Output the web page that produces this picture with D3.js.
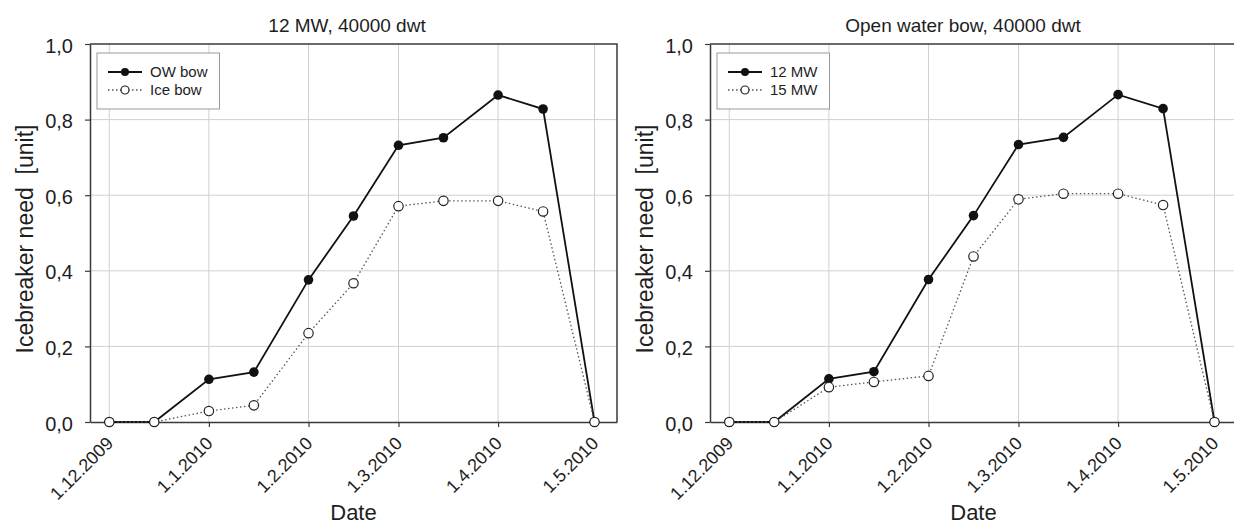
<!DOCTYPE html>
<html>
<head>
<meta charset="utf-8">
<script src="https://cdn.jsdelivr.net/npm/d3@7"></script>
<style>
  html, body { margin: 0; padding: 0; background: #fff; }
  svg { display: block; font-family: Arial, "Liberation Sans", sans-serif; }
  .ylab { white-space: pre; }
</style>
</head>
<body>
<div id="chart"></div>
<script>
// sample dates (1st and 15th of each month)
const dates = ["2009-12-01", "2009-12-15", "2010-01-01", "2010-01-15", "2010-02-01", "2010-02-15",
  "2010-03-01", "2010-03-15", "2010-04-01", "2010-04-15", "2010-05-01"];

// left panel: 12 MW, 40000 dwt
const owBow = [0, 0, 0.113, 0.132, 0.376, 0.545, 0.732, 0.752, 0.865, 0.828, 0];
const iceBow = [0, 0, 0.029, 0.044, 0.235, 0.367, 0.571, 0.585, 0.585, 0.557, 0];

// right panel: open water bow, 40000 dwt
const mw12 = [0, 0, 0.114, 0.133, 0.377, 0.546, 0.734, 0.753, 0.866, 0.829, 0];
const mw15 = [0, 0, 0.092, 0.106, 0.122, 0.438, 0.589, 0.604, 0.604, 0.574, 0];

const monthTicks = ["2009-12-01", "2010-01-01", "2010-02-01", "2010-03-01", "2010-04-01", "2010-05-01"];
const monthLabels = ["1.12.2009", "1.1.2010", "1.2.2010", "1.3.2010", "1.4.2010", "1.5.2010"];
const yTicks = [0, 0.2, 0.4, 0.6, 0.8, 1.0];
const yLabels = ["0,0", "0,2", "0,4", "0,6", "0,8", "1,0"];
const xDomain = ["2009-11-25", "2010-05-08"];

const parse = d3.utcParse("%Y-%m-%d");

const width = 1234, height = 524;
const svg = d3.select("#chart").append("svg")
  .attr("width", width)
  .attr("height", height);

const axisColor = "#3a3a3a";
const gridColor = "#d0d0d0";
const textColor = "#1e1e1e";

function drawPanel(opt) {
  const x = d3.scaleUtc().domain(xDomain.map(parse)).range([opt.left, opt.left + 527]);
  const y = d3.scaleLinear().domain([0, 1]).range([422, 44]);
  const g = svg.append("g");

  // grid
  g.append("g").selectAll("line").data(monthTicks.map(parse)).join("line")
    .attr("x1", d => x(d)).attr("x2", d => x(d))
    .attr("y1", y(0)).attr("y2", y(1))
    .attr("stroke", gridColor).attr("stroke-width", 1);
  g.append("g").selectAll("line").data(yTicks.slice(1, -1)).join("line")
    .attr("x1", x.range()[0]).attr("x2", x.range()[1])
    .attr("y1", d => y(d)).attr("y2", d => y(d))
    .attr("stroke", gridColor).attr("stroke-width", 1);

  // frame top / right
  g.append("path")
    .attr("d", `M${x.range()[0]},${y(1)}H${x.range()[1]}V${y(0)}`)
    .attr("fill", "none").attr("stroke", axisColor).attr("stroke-width", 1.5);

  // x axis
  const xAxis = d3.axisBottom(x).tickValues(monthTicks.map(parse))
    .tickSize(5).tickSizeOuter(0).tickFormat((d, i) => monthLabels[i]);
  const gx = g.append("g").attr("transform", `translate(0,${y(0)})`).call(xAxis);
  gx.select(".domain").attr("stroke", axisColor).attr("stroke-width", 1.5);
  gx.selectAll(".tick line").attr("stroke", axisColor).attr("stroke-width", 1.2);
  gx.selectAll(".tick text")
    .attr("font-size", 18).attr("fill", textColor)
    .attr("text-anchor", "end")
    .attr("transform", "translate(0,18) rotate(-45)")
    .attr("x", 0).attr("y", 0).attr("dy", "0.35em");

  // y axis
  const yAxis = d3.axisLeft(y).tickValues(yTicks).tickSize(5).tickSizeOuter(0)
    .tickFormat((d, i) => yLabels[i]);
  const gy = g.append("g").attr("transform", `translate(${x.range()[0]},0)`).call(yAxis);
  gy.select(".domain").attr("stroke", axisColor).attr("stroke-width", 1.5);
  gy.selectAll(".tick line").attr("stroke", axisColor).attr("stroke-width", 1.2);
  gy.selectAll(".tick text").attr("font-size", 20).attr("fill", textColor)
    .attr("x", -17).attr("dy", "0.4em");

  // titles
  g.append("text").attr("x", opt.titleX).attr("y", 32)
    .attr("text-anchor", "middle").attr("font-size", 19).attr("fill", textColor)
    .text(opt.title);
  g.append("text").attr("class", "ylab").attr("text-anchor", "middle")
    .attr("transform", `translate(${opt.left - 57},239) rotate(-90)`)
    .attr("font-size", 23).attr("fill", textColor)
    .text("Icebreaker need  [unit]");
  g.append("text").attr("x", (x.range()[0] + x.range()[1]) / 2).attr("y", 520)
    .attr("text-anchor", "middle").attr("font-size", 22).attr("fill", textColor)
    .text("Date");

  const pts = (vals) => vals.map((v, i) => ({ date: parse(dates[i]), v }));
  const line = d3.line().x(d => x(d.date)).y(d => y(d.v));

  // filled series
  const s1 = pts(opt.series1);
  g.append("path").datum(s1).attr("d", line)
    .attr("fill", "none").attr("stroke", "#111").attr("stroke-width", 1.8);
  g.append("g").selectAll("circle").data(s1).join("circle")
    .attr("cx", d => x(d.date)).attr("cy", d => y(d.v)).attr("r", 4.8)
    .attr("fill", "#111");

  // open series (on top)
  const s2 = pts(opt.series2);
  g.append("path").datum(s2).attr("d", line)
    .attr("fill", "none").attr("stroke", "#555").attr("stroke-width", 1.3)
    .attr("stroke-dasharray", "1.5,2.5");
  g.append("g").selectAll("circle").data(s2).join("circle")
    .attr("cx", d => x(d.date)).attr("cy", d => y(d.v)).attr("r", 4.7)
    .attr("fill", "#fff").attr("stroke", "#222").attr("stroke-width", 1.2);

  // legend
  const lx = x.range()[0] + 7, ly = 53;
  const leg = g.append("g");
  const box = leg.append("rect").attr("x", lx).attr("y", ly).attr("height", 56)
    .attr("fill", "#fff").attr("stroke", "#999").attr("stroke-width", 1);
  const rows = [
    { name: opt.names[0], y: 72, filled: true },
    { name: opt.names[1], y: 90, filled: false }
  ];
  let maxW = 0;
  rows.forEach(r => {
    leg.append("line").attr("x1", lx + 11).attr("x2", lx + 45).attr("y1", r.y).attr("y2", r.y)
      .attr("stroke", r.filled ? "#111" : "#555")
      .attr("stroke-width", r.filled ? 1.8 : 1.3)
      .attr("stroke-dasharray", r.filled ? null : "1.5,2.5");
    leg.append("circle").attr("cx", lx + 28).attr("cy", r.y).attr("r", 4)
      .attr("fill", r.filled ? "#111" : "#fff")
      .attr("stroke", r.filled ? "none" : "#222").attr("stroke-width", 1.2);
    const t = leg.append("text").attr("x", lx + 53).attr("y", r.y).attr("dy", "0.36em")
      .attr("font-size", 15).attr("fill", textColor).text(r.name);
    maxW = Math.max(maxW, t.node().getComputedTextLength());
  });
  box.attr("width", 53 + maxW + 12);
}

drawPanel({ left: 90, title: "12 MW, 40000 dwt", titleX: 347,
  series1: owBow, series2: iceBow, names: ["OW bow", "Ice bow"] });
drawPanel({ left: 710, title: "Open water bow, 40000 dwt", titleX: 963,
  series1: mw12, series2: mw15, names: ["12 MW", "15 MW"] });
</script>
</body>
</html>
